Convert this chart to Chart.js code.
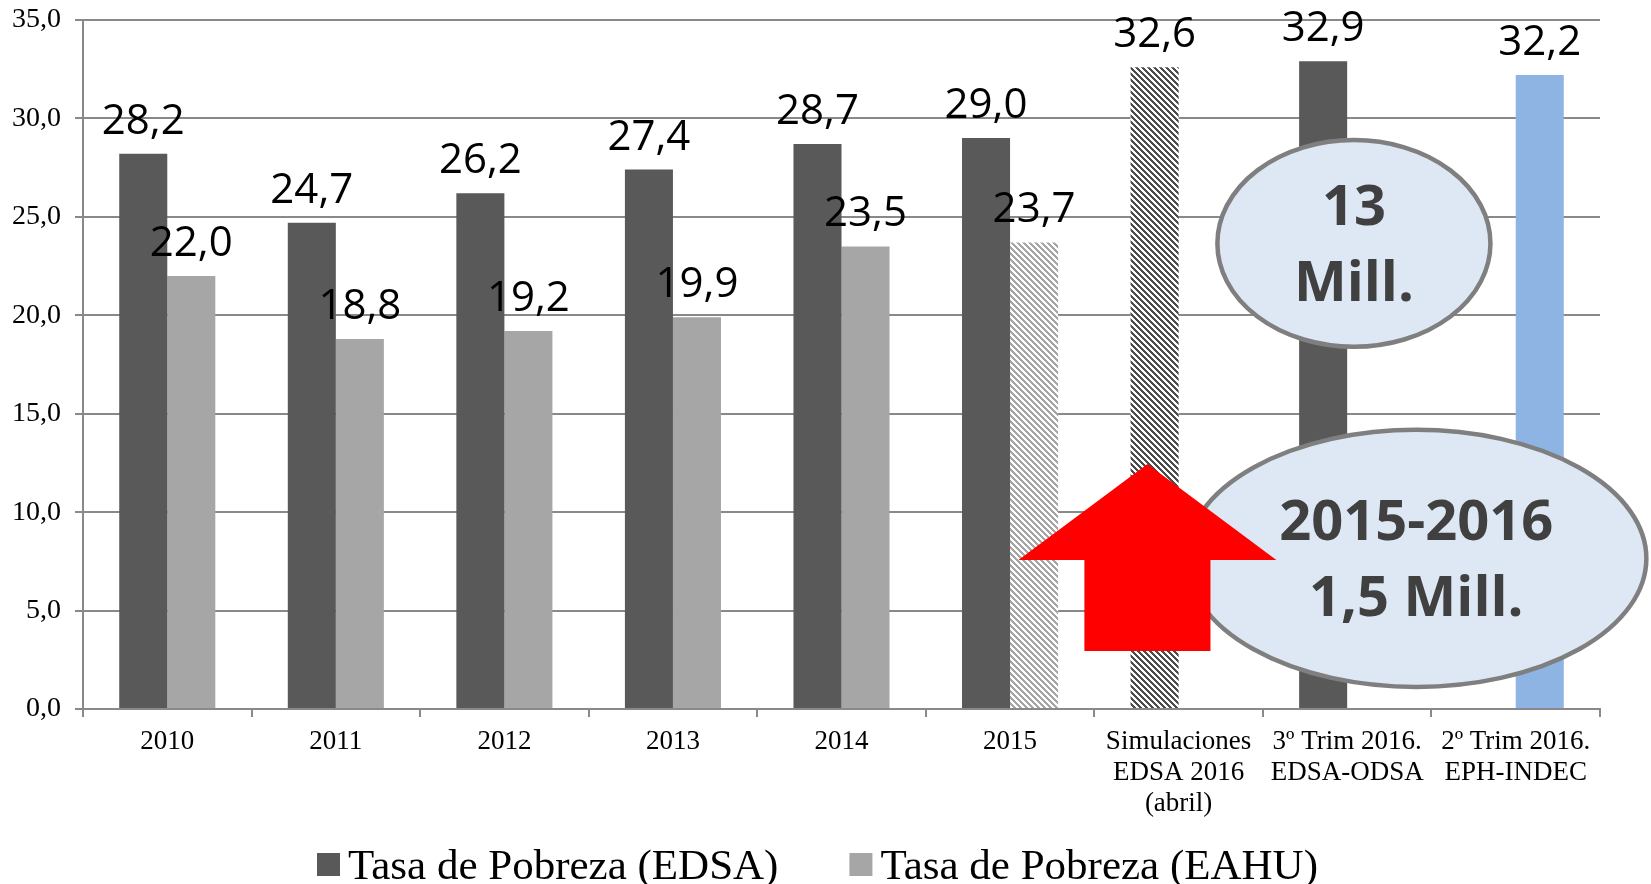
<!DOCTYPE html>
<html>
<head>
<meta charset="utf-8">
<script src="https://cdn.jsdelivr.net/npm/chart.js@4.4.0/dist/chart.umd.min.js"></script>
<style>
    html, body { margin: 0; padding: 0; background: #ffffff; }
    #wrap { width: 1651px; height: 884px; }
</style>
</head>
<body>
<div id="wrap"><canvas id="povertyChart" width="1651" height="884"></canvas></div>
<script>
// Categories and values
const categories = [
    '2010', '2011', '2012', '2013', '2014', '2015',
    ['Simulaciones', 'EDSA 2016', '(abril)'],
    ['3º Trim 2016.', 'EDSA-ODSA'],
    ['2º Trim 2016.', 'EPH-INDEC']
];
const edsaValues = [28.2, 24.7, 26.2, 27.4, 28.7, 29.0, 32.6, 32.9, null];
const eahuValues = [22.0, 18.8, 19.2, 19.9, 23.5, 23.7, null, null, 32.2];
const legendLabels = ['Tasa de Pobreza (EDSA)', 'Tasa de Pobreza (EAHU)'];
const bubbleTexts = [['13', 'Mill.'], ['2015-2016', '1,5 Mill.']];

const DARK = '#595959';
const LIGHT = '#a6a6a6';
const BLUE = '#8eb4e3';
const GRID = '#898989';

// diagonal hatch fill like the Excel pattern
function makeHatch(color) {
    const size = 12;
    const c = document.createElement('canvas');
    c.width = size;
    c.height = size;
    const g = c.getContext('2d');
    g.fillStyle = '#ffffff';
    g.fillRect(0, 0, size, size);
    g.fillStyle = color;
    for (let py = 0; py < size; py++) {
        for (let px = 0; px < size; px++) {
            if ((((px - py) % 6) + 6) % 6 < 3) g.fillRect(px, py, 1, 1);
        }
    }
    return g.createPattern(c, 'repeat');
}

const ctx = document.getElementById('povertyChart');
const darkHatch = makeHatch('#4d4d4d');
const lightHatch = makeHatch('#a6a6a6');

const edsaColors = edsaValues.map((v, i) => (i === 6 ? darkHatch : DARK));
const eahuColors = eahuValues.map((v, i) => (i === 5 ? lightHatch : (i === 8 ? BLUE : LIGHT)));

function fmt(v) {
    return Number(v).toFixed(1).replace('.', ',');
}

// value labels above each bar
const valueLabels = {
    id: 'valueLabels',
    afterDatasetsDraw(chart) {
        const c = chart.ctx;
        c.save();
        c.font = '42px "Open Sans"';
        c.fillStyle = '#000000';
        c.textAlign = 'center';
        c.textBaseline = 'alphabetic';
        chart.data.datasets.forEach((ds, di) => {
            chart.getDatasetMeta(di).data.forEach((bar, i) => {
                if (ds.data[i] === null) return;
                c.fillText(fmt(ds.data[i]), bar.x, bar.y - 20);
            });
        });
        c.restore();
    }
};

// callouts, in category / value units
const bubbles = [
    { x: 7.04, y: 23.65, rx: 0.81, ry: 5.25, lines: bubbleTexts[0] },
    { x: 7.41, y: 7.65, rx: 1.365, ry: 6.53, lines: bubbleTexts[1] }
];
const arrow = { x: 5.815, tip: 12.44, wing: 7.57, base: 2.95, wingHalf: 0.765, shaftHalf: 0.374 };

const callouts = {
    id: 'callouts',
    afterDraw(chart) {
        const c = chart.ctx;
        const xs = chart.scales.x;
        const ys = chart.scales.y;
        const catW = xs.width / categories.length;
        const unit = Math.abs(ys.getPixelForValue(1) - ys.getPixelForValue(0));
        c.save();
        bubbles.forEach(b => {
            const cx = xs.getPixelForValue(b.x);
            const cy = ys.getPixelForValue(b.y);
            c.beginPath();
            c.ellipse(cx, cy, b.rx * catW, b.ry * unit, 0, 0, Math.PI * 2);
            c.fillStyle = '#dee8f4';
            c.fill();
            c.lineWidth = 4.5;
            c.strokeStyle = '#7f7f7f';
            c.stroke();
            c.fillStyle = '#404040';
            c.font = 'bold 56px "Open Sans"';
            c.textAlign = 'center';
            c.textBaseline = 'alphabetic';
            c.fillText(b.lines[0], cx, cy - 18);
            c.fillText(b.lines[1], cx, cy + 58);
        });

        // red up arrow
        const ax = xs.getPixelForValue(arrow.x);
        const wingW = arrow.wingHalf * catW;
        const shaftW = arrow.shaftHalf * catW;
        const yTip = ys.getPixelForValue(arrow.tip);
        const yWing = ys.getPixelForValue(arrow.wing);
        const yBase = ys.getPixelForValue(arrow.base);
        c.beginPath();
        c.moveTo(ax, yTip);
        c.lineTo(ax + wingW, yWing);
        c.lineTo(ax + shaftW, yWing);
        c.lineTo(ax + shaftW, yBase);
        c.lineTo(ax - shaftW, yBase);
        c.lineTo(ax - shaftW, yWing);
        c.lineTo(ax - wingW, yWing);
        c.closePath();
        c.fillStyle = '#ff0000';
        c.fill();

        // legend
        const colors = [DARK, LIGHT];
        c.font = '43px "Liberation Serif"';
        c.textAlign = 'left';
        c.textBaseline = 'alphabetic';
        let lx = 317;
        const ly = 864;
        legendLabels.forEach((t, i) => {
            c.fillStyle = colors[i];
            c.fillRect(lx, ly - 11, 23, 23);
            c.fillStyle = '#000000';
            c.fillText(t, lx + 31, ly + 15);
            lx += 31 + c.measureText(t).width + 71;
        });
        c.restore();
    }
};

new Chart(ctx, {
    type: 'bar',
    data: {
        labels: categories,
        datasets: [{
            label: legendLabels[0],
            data: edsaValues,
            backgroundColor: edsaColors,
            borderWidth: 0
        }, {
            label: legendLabels[1],
            data: eahuValues,
            backgroundColor: eahuColors,
            borderWidth: 0
        }]
    },
    options: {
        responsive: false,
        animation: false,
        devicePixelRatio: 1,
        categoryPercentage: 0.57,
        barPercentage: 1.0,
        layout: {
            padding: { top: 20, right: 51, bottom: 65, left: 0 }
        },
        plugins: {
            legend: { display: false },
            tooltip: { enabled: false }
        },
        scales: {
            x: {
                grid: {
                    drawOnChartArea: false,
                    color: GRID,
                    lineWidth: 2,
                    tickLength: 8
                },
                border: { color: GRID, width: 2 },
                ticks: {
                    color: '#000000',
                    font: { family: '"Liberation Serif"', size: 27, lineHeight: 1.16 },
                    padding: 9,
                    maxRotation: 0,
                    autoSkip: false
                },
                afterFit: function(scale) {
                    scale.height = 110;
                }
            },
            y: {
                min: 0,
                max: 35,
                grid: {
                    color: GRID,
                    lineWidth: 2,
                    tickLength: 8
                },
                border: { color: GRID, width: 2 },
                ticks: {
                    stepSize: 5,
                    color: '#000000',
                    font: { family: '"Liberation Serif"', size: 28 },
                    padding: 14,
                    callback: function(value) {
                        return fmt(value);
                    }
                },
                afterFit: function(scale) {
                    scale.width = 83;
                    scale.paddingTop = 0;
                    scale.paddingBottom = 0;
                }
            }
        }
    },
    plugins: [valueLabels, callouts]
});
</script>
</body>
</html>
